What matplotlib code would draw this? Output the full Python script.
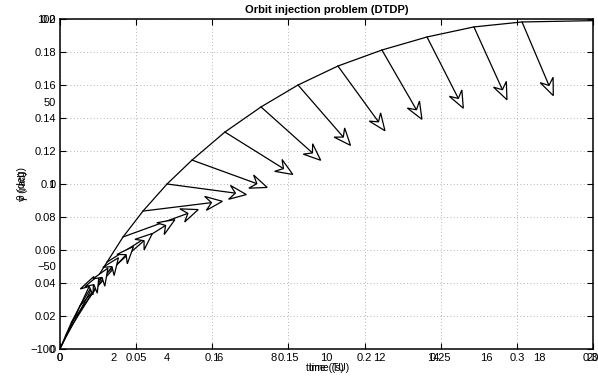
import numpy as np
import matplotlib
matplotlib.use("Agg")
import matplotlib.pyplot as plt
from matplotlib.patches import Polygon
from matplotlib.lines import Line2D
from matplotlib.transforms import IdentityTransform

plt.rcParams['font.family'] = ['Liberation Sans', 'DejaVu Sans']
plt.rcParams['font.size'] = 8

# trajectory (nondimensional downrange / altitude) at the DTDP nodes
traj_x = [0.0, 0.0010, 0.0036, 0.0075, 0.0131, 0.0210, 0.0309, 0.0414, 0.0545,
          0.0703, 0.0867, 0.1083, 0.1320, 0.1563, 0.1825, 0.2114, 0.2410,
          0.2718, 0.3034, 0.3500]
traj_y = [0.0, 0.0021, 0.0079, 0.0161, 0.0261, 0.0382, 0.0527, 0.0679, 0.0836,
          0.1000, 0.1145, 0.1315, 0.1467, 0.1600, 0.1715, 0.1812, 0.1891,
          0.1952, 0.1982, 0.1990]
# thrust direction at each node (deg); final node has no control
thrust_deg = [65, 62, 58, 54, 48, 41, 32, 20, 7, -7.6, -20, -32, -41.8, -49,
              -54, -60, -63, -65.6, -67]

x1_ticks = [0, 0.05, 0.1, 0.15, 0.2, 0.25, 0.3, 0.35]
y1_ticks = [0, 0.02, 0.04, 0.06, 0.08, 0.1, 0.12, 0.14, 0.16, 0.18, 0.2]
x2_ticks = [0, 2, 4, 6, 8, 10, 12, 14, 16, 18, 20]
y2_ticks = [-100, -50, 0, 50, 100]

W, H = 598, 376
fig = plt.figure(figsize=(W / 100, H / 100), dpi=100)
rect = [60 / W, 27 / H, 533 / W, 330 / H]

ax = fig.add_axes(rect)
ax.set_xlim(0, 0.35)
ax.set_ylim(0, 0.2)
ax.set_xticks(x1_ticks)
ax.set_yticks(y1_ticks)
ax.set_xticklabels(['0', '0.05', '0.1', '0.15', '0.2', '0.25', '0.3', '0.35'])
ax.set_yticklabels(['0', '0.02', '0.04', '0.06', '0.08', '0.1', '0.12', '0.14',
                    '0.16', '0.18', '0.2'])
ax.tick_params(direction='in', length=4, width=0.8, top=True, right=True,
               labelsize=8, pad=3, colors='black')
ax.grid(True, color='#9a9a9a', linestyle=(0, (1, 3)), linewidth=0.6)
for s in ax.spines.values():
    s.set_linewidth(1.1)
ax.set_title('Orbit injection problem (DTDP)', fontsize=8, fontweight='bold', pad=4)

ax.plot(traj_x, traj_y, color='black', lw=0.9, zorder=3)

# thrust arrows drawn in display space so every arrow has the same length
fig.canvas.draw()
L, HL, HW, NOTCH = 80.0, 17.0, 7.0, 11.0
for xb, yb, a in zip(traj_x[:-1], traj_y[:-1], thrust_deg):
    b = ax.transData.transform((xb, yb))
    d = np.array([np.cos(np.radians(a)), np.sin(np.radians(a))])
    n = np.array([-d[1], d[0]])
    tip = b + L * d
    notch = tip - NOTCH * d
    line = Line2D([b[0], notch[0]], [b[1], notch[1]], color='black', lw=0.9,
                  transform=IdentityTransform(), zorder=4)
    fig.add_artist(line)
    head = Polygon([tip, tip - HL * d + HW * n, notch, tip - HL * d - HW * n],
                   closed=True, facecolor='white', edgecolor='black', lw=0.9,
                   transform=IdentityTransform(), zorder=5)
    fig.add_artist(head)

# second set of axes sharing the frame (time in seconds, angle in degrees)
ax2 = fig.add_axes(rect)
ax2.patch.set_visible(False)
for s in ax2.spines.values():
    s.set_visible(False)
ax2.set_xlim(0, 20)
ax2.set_ylim(-100, 100)
ax2.set_xticks(x2_ticks)
ax2.set_yticks(y2_ticks)
ax2.set_xticklabels([str(v) for v in x2_ticks])
ax2.set_yticklabels(['\u2212100', '\u221250', '0', '50', '100'])
ax2.tick_params(direction='in', length=0, labelsize=8, pad=3, colors='black')

fig.text(327.5 / W, 1 - 368 / H, 'time (TU)', ha='center', va='center', fontsize=7.5)
fig.text(326 / W, 1 - 368 / H, 'time (s)', ha='center', va='center', fontsize=7.5)
fig.text(22 / W, 1 - 184 / H, '\u03b8 (deg)', rotation=90, ha='center', va='center', fontsize=7.5)
fig.text(23 / W, 1 - 186 / H, '\u03b3 (rad)', rotation=90, ha='center', va='center', fontsize=7.5)

fig.savefig('out.png', dpi=100)
